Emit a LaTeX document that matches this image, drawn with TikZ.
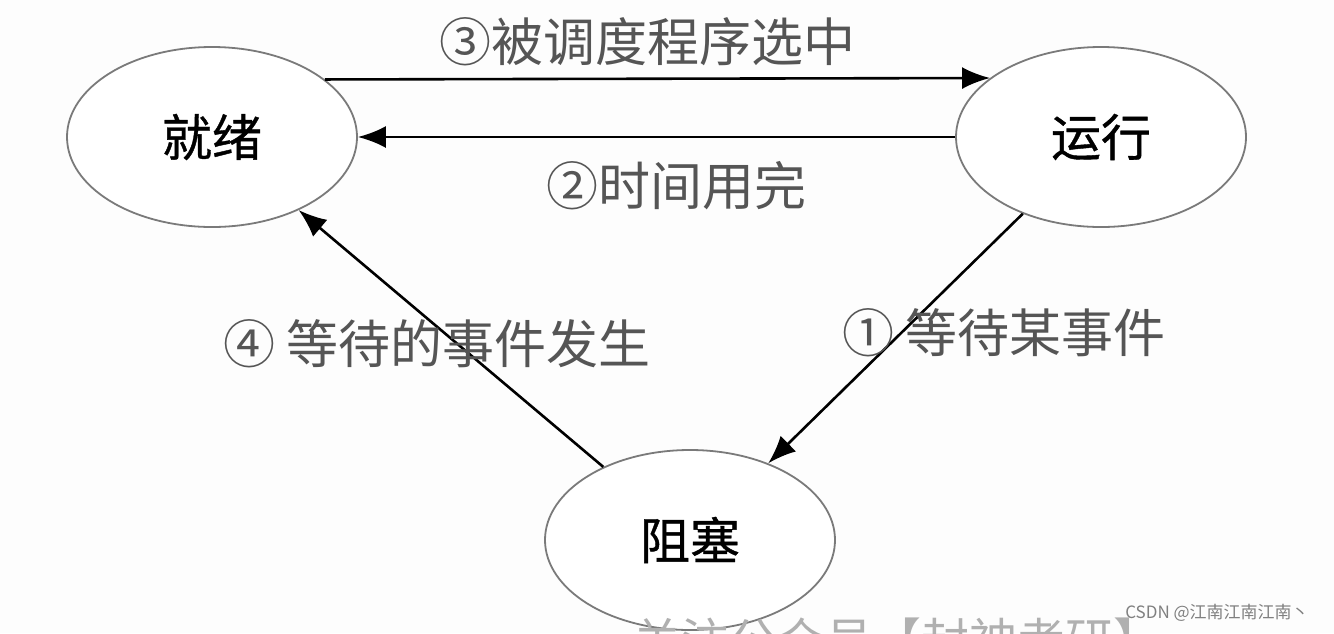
\documentclass[tikz,border=0pt]{standalone}
\usepackage{fontspec}
\setmainfont{Noto Sans CJK SC}
\newfontfamily\nodefont[FakeBold=0.8]{Noto Sans CJK SC}
\usetikzlibrary{arrows.meta,shapes.geometric}
\definecolor{bg}{HTML}{FDFDFD}
\definecolor{ring}{HTML}{7A7A7A}
\definecolor{lbl}{HTML}{555555}
\definecolor{wm}{HTML}{B0B0B0}
\begin{document}
\begin{tikzpicture}[x=1pt,y=-1pt,
  state/.style={ellipse,draw=ring,line width=1.8pt,fill=white,minimum width=290pt,minimum height=180pt,inner sep=0pt,font=\nodefont\fontsize{50}{60}\selectfont},
  arr/.style={-{Latex[length=28pt,width=22pt]},line width=2.6pt,black},
  lab/.style={text=lbl,font=\fontsize{52}{62}\selectfont,inner sep=0pt}]
\useasboundingbox (0,0) rectangle (1334,633);
\fill[bg] (0,0) rectangle (1334,633);
\begin{scope}
\clip (0,0) rectangle (1334,633);
\node[state] (ready) at (212,137) {就绪};
\node[state] (run) at (1101,137) {运行};
\node[state] (block) at (690,540) {阻塞};
\draw[arr] (ready.27.6) -- (run.152.4);
\draw[arr] (run.west) -- (ready.east);
\draw[arr] (run) -- (block);
\draw[arr] (block) -- (ready);
\node[lab] (l3) at (647,42) {③被调度程序选中};
\node[lab] (l2) at (676,186) {②时间用完};
\node[lab] (l4) at (437,344) {④ 等待的事件发生};
\node[lab] (l1) at (1004,333) {① 等待某事件};
\node[text=wm,font=\fontsize{48}{58}\selectfont,inner sep=0pt] (wm1) at (897,640) {关注公众号【封神考研】};
\node[text=gray,font=\fontsize{17}{20}\selectfont,inner sep=0pt] (wm2) at (1217,613) {CSDN @江南江南江南丶};
\end{scope}
\end{tikzpicture}
\end{document}
